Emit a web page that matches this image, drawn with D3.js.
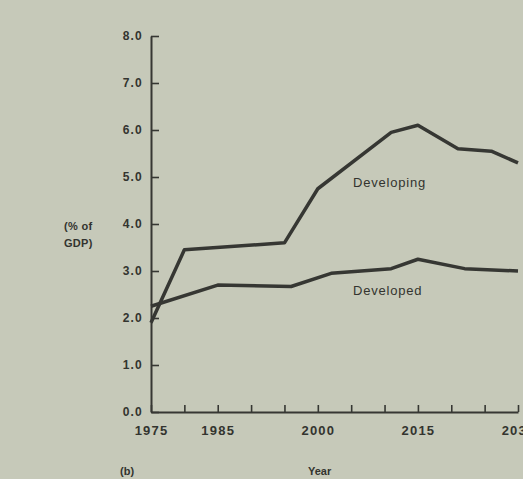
<!DOCTYPE html>
<html>
<head>
<meta charset="utf-8">
<script src="https://cdn.jsdelivr.net/npm/d3@7"></script>
<style>
  body { margin: 0; background: #c6c9b9; }
  text { font-family: 'Liberation Sans', Arial, sans-serif; fill: #33342f; }
</style>
</head>
<body>
<script>
// data
let years = [1975, 1980, 1985, 1990, 1995, 2000, 2005, 2010, 2015, 2020, 2025, 2030]
let labelYears = [1975, 1985, 2000, 2015, 2030]
let yTicks = [0, 1, 2, 3, 4, 5, 6, 7, 8]

let developingYears = [1975, 1980, 1995, 2000, 2011, 2015, 2021, 2026, 2030]
let developingVals  = [1.9, 3.45, 3.6, 4.75, 5.95, 6.1, 5.6, 5.55, 5.3]

let developedYears = [1975, 1985, 1996, 2002, 2011, 2015, 2022, 2030]
let developedVals  = [2.25, 2.7, 2.67, 2.95, 3.05, 3.25, 3.05, 3.0]

let width = 523, height = 479
let margin = {top: 36, bottom: 67, left: 151, right: 5}

let svg = d3.select('body').append('svg').attr('width', width).attr('height', height)
  .style('background', '#c6c9b9')

let xScale = d3.scaleLinear().domain([1975, 2030]).range([margin.left, 518])
let yScale = d3.scaleLinear().domain([0, 8]).range([height - margin.bottom, margin.top])

let yAxis = svg.append('g')
  .attr('transform', `translate(${margin.left},0)`)
  .call(d3.axisLeft(yScale).tickValues(yTicks).tickFormat(d3.format('.1f'))
    .tickSizeInner(-8).tickSizeOuter(0).tickPadding(8))

let xAxis = svg.append('g')
  .attr('transform', `translate(0,${height - margin.bottom})`)
  .call(d3.axisBottom(xScale).tickValues(years)
    .tickFormat(d => labelYears.includes(d) ? d : '')
    .tickSizeInner(-7).tickSizeOuter(0).tickPadding(14))

svg.selectAll('.domain').attr('stroke', '#363733').attr('stroke-width', 2)
svg.selectAll('.tick line').attr('stroke', '#363733').attr('stroke-width', 1.6)
yAxis.selectAll('text').style('font-size', '12px').style('font-weight', 'bold')
  .style('letter-spacing', '1.2px').attr('fill', '#3a3b36')
xAxis.selectAll('text').style('font-size', '13px').style('font-weight', 'bold')
  .style('letter-spacing', '1.2px').attr('fill', '#33342f')

let line = d3.line().x(d => xScale(d[0])).y(d => yScale(d[1]))

svg.append('path').datum(d3.zip(developingYears, developingVals))
  .attr('d', line).attr('fill', 'none')
  .attr('stroke', '#363733').attr('stroke-width', 3.5).attr('stroke-linejoin', 'round')

svg.append('path').datum(d3.zip(developedYears, developedVals))
  .attr('d', line).attr('fill', 'none')
  .attr('stroke', '#363733').attr('stroke-width', 3.5).attr('stroke-linejoin', 'round')

// labels
svg.append('text').attr('x', 353).attr('y', 187).text('Developing')
  .style('font-size', '13px').style('letter-spacing', '0.8px')
svg.append('text').attr('x', 353).attr('y', 295).text('Developed')
  .style('font-size', '13px').style('letter-spacing', '0.8px')

svg.append('text').attr('x', 64).attr('y', 230).text('(% of')
  .style('font-size', '11px').style('font-weight', 'bold').style('letter-spacing', '0.3px')
svg.append('text').attr('x', 64).attr('y', 247).text('GDP)')
  .style('font-size', '11px').style('font-weight', 'bold').style('letter-spacing', '0.3px')

svg.append('text').attr('x', 120).attr('y', 475).text('(b)')
  .style('font-size', '11px').style('font-weight', 'bold')
svg.append('text').attr('x', 308).attr('y', 475).text('Year')
  .style('font-size', '11px').style('font-weight', 'bold')
</script>
</body>
</html>
